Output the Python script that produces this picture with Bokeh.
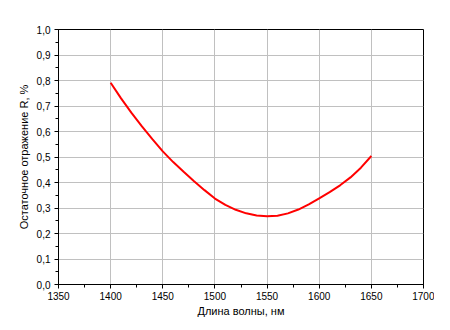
from bokeh.plotting import figure
from bokeh.models import Range1d, SingleIntervalTicker, CustomJSTickFormatter
from bokeh.embed import file_html
from bokeh.resources import INLINE

wavelength = [1400, 1410, 1420, 1430, 1440, 1450, 1460, 1470, 1480, 1490,
              1500, 1510, 1520, 1530, 1540, 1550, 1560, 1570, 1580, 1590,
              1600, 1610, 1620, 1630, 1640, 1650]
reflect = [0.791, 0.730, 0.673, 0.620, 0.570, 0.522, 0.480, 0.442, 0.405, 0.370,
           0.337, 0.312, 0.293, 0.279, 0.271, 0.268, 0.270, 0.279, 0.294, 0.314,
           0.338, 0.362, 0.389, 0.420, 0.458, 0.504]

x_label = "Длина волны, нм"
y_label = "Остаточное отражение R, %"

p = figure(width=434, height=320, output_backend="svg", toolbar_location=None,
           x_range=Range1d(1350, 1700), y_range=Range1d(0, 1.0),
           min_border_left=58, min_border_right=11, min_border_top=29, min_border_bottom=36)

p.line(wavelength, reflect, line_color="#ff0000", line_width=2)

font = "Liberation Sans"
p.xaxis.ticker = SingleIntervalTicker(interval=50, num_minor_ticks=2)
p.yaxis.ticker = SingleIntervalTicker(interval=0.1, num_minor_ticks=2)
p.yaxis.formatter = CustomJSTickFormatter(code="return tick.toFixed(1).replace('.', ',');")
p.xaxis.axis_label = x_label
p.yaxis.axis_label = y_label

for ax in (p.xaxis, p.yaxis):
    ax.axis_line_color = "black"
    ax.axis_line_width = 1
    ax.major_tick_line_color = "black"
    ax.minor_tick_line_color = "black"
    ax.major_tick_out = 4
    ax.major_tick_in = 0
    ax.minor_tick_out = 3
    ax.minor_tick_in = 0
    ax.major_label_text_font = font
    ax.major_label_text_font_size = "10px"
    ax.major_label_text_color = "black"
    ax.axis_label_text_font = font
    ax.axis_label_text_font_size = "11px"
    ax.axis_label_text_font_style = "normal"
    ax.axis_label_text_color = "black"

p.xaxis.axis_label_standoff = 2
p.yaxis.axis_label_standoff = 4
p.xaxis.major_label_standoff = 3
p.yaxis.major_label_standoff = 4

p.xgrid.grid_line_color = "#c0c0c0"
p.ygrid.grid_line_color = "#c0c0c0"
p.xgrid.grid_line_width = 1
p.ygrid.grid_line_width = 1
p.outline_line_color = "black"
p.outline_line_alpha = 1
p.outline_line_width = 1
p.background_fill_color = "white"
p.border_fill_color = "white"

open("out.html", "w").write(file_html(p, INLINE))
